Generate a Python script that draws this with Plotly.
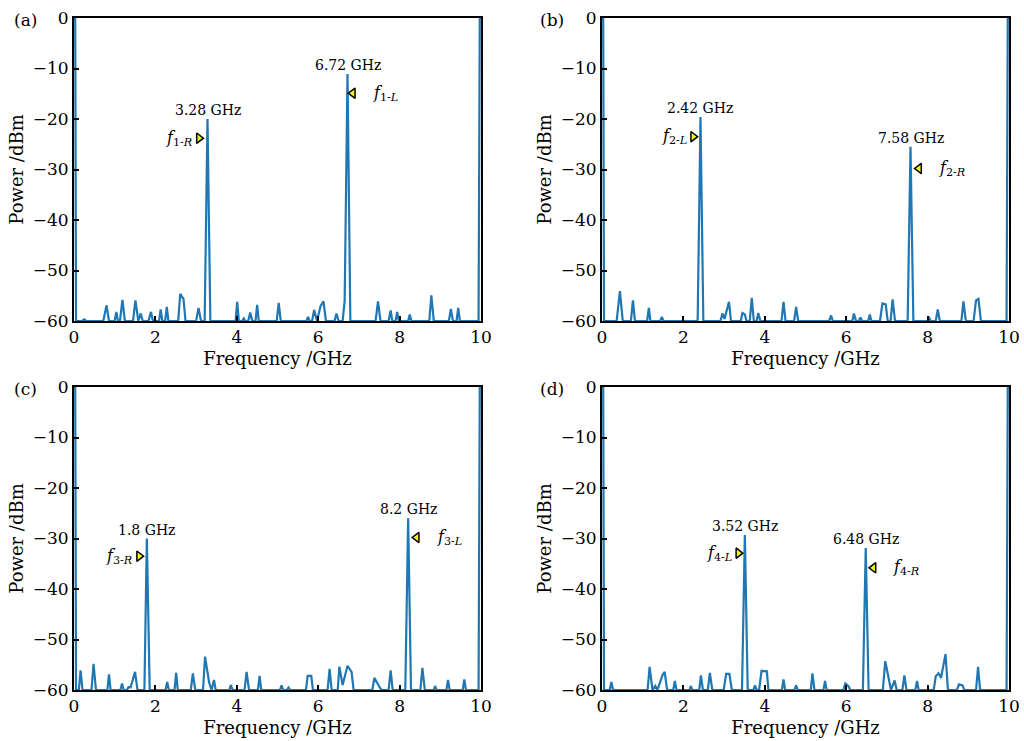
import plotly.graph_objects as go

# ---------------- data ----------------
a_freq = [0.00, 0.03, 0.05, 0.20, 0.25, 0.30, 0.72, 0.80, 0.86, 1.00, 1.04, 1.08, 1.13, 1.19, 1.25,
          1.45, 1.51, 1.58, 1.64, 1.69, 1.83, 1.89, 1.94, 2.09, 2.13, 2.17, 2.24, 2.28, 2.32,
          2.56, 2.61, 2.69, 2.74, 3.00, 3.06, 3.12, 3.21, 3.28, 3.35, 3.97, 4.01, 4.05,
          4.13, 4.17, 4.21, 4.28, 4.33, 4.38, 4.46, 4.50, 4.54, 4.98, 5.03, 5.08,
          5.71, 5.75, 5.79, 5.85, 5.90, 5.97, 6.06, 6.13, 6.19, 6.40, 6.45, 6.50,
          6.60, 6.65, 6.72, 6.79, 7.41, 7.47, 7.53, 7.73, 7.78, 7.82, 7.90, 7.94, 7.98,
          8.21, 8.25, 8.29, 8.73, 8.78, 8.84, 9.21, 9.26, 9.31, 9.40, 9.44, 9.48,
          9.94, 9.97, 10.00]
a_power = [0, 0, -60, -60, -59.7, -60, -60, -56.9, -60, -60, -58.2, -60, -60, -55.8, -60,
           -60, -55.9, -60, -58.5, -60, -60, -58.2, -60, -60, -57.7, -60, -60, -57.2, -60,
           -60, -54.6, -55.6, -60, -60, -57.4, -60, -60, -20.0, -60, -60, -56.2, -60,
           -60, -59.5, -60, -60, -58.3, -60, -60, -56.8, -60, -60, -56.4, -60,
           -60, -59.2, -60, -60, -57.8, -60, -57.0, -56.1, -60, -60, -58.5, -60,
           -60, -56.0, -11.1, -60, -60, -56.1, -60, -60, -57.9, -60, -60, -58.2, -60,
           -60, -58.7, -60, -60, -54.9, -60, -60, -57.6, -60, -60, -57.4, -60,
           -60, 0, 0]

b_freq = [0.00, 0.03, 0.05, 0.36, 0.44, 0.51, 0.71, 0.76, 0.81, 1.11, 1.15, 1.19, 1.43, 1.47, 1.51,
          2.35, 2.42, 2.49, 2.91, 2.96, 3.01, 3.12, 3.17, 3.41, 3.45, 3.51, 3.55,
          3.63, 3.68, 3.73, 3.80, 3.84, 3.89, 4.41, 4.46, 4.51, 4.72, 4.77, 4.82,
          5.58, 5.63, 5.67, 6.15, 6.19, 6.24, 6.31, 6.35, 6.39, 6.54, 6.58, 6.62,
          6.83, 6.89, 6.97, 7.02, 7.09, 7.14, 7.20, 7.51, 7.58, 7.65,
          7.99, 8.04, 8.08, 8.20, 8.25, 8.30, 8.83, 8.88, 8.94, 9.13, 9.19, 9.25, 9.31,
          9.94, 9.97, 10.00]
b_power = [0, 0, -60, -60, -54.1, -60, -60, -55.9, -60, -60, -57.4, -60, -60, -59.2, -60,
           -60, -19.6, -60, -60, -58.5, -59.6, -56.2, -60, -60, -58.4, -58.7, -60,
           -60, -55.4, -60, -60, -58.4, -60, -60, -56.2, -60, -60, -57.2, -60,
           -60, -58.9, -60, -60, -58.5, -60, -60, -59.3, -60, -60, -58.7, -60,
           -60, -56.5, -56.7, -60, -60, -55.7, -60, -60, -25.5, -60,
           -60, -59.4, -60, -60, -57.7, -60, -60, -56.1, -60, -60, -55.9, -55.6, -60,
           -60, 0, 0]

c_freq = [0.00, 0.03, 0.05, 0.12, 0.16, 0.21, 0.43, 0.48, 0.54, 0.82, 0.86, 0.90, 1.14, 1.18, 1.22,
          1.30, 1.34, 1.39, 1.50, 1.56, 1.73, 1.79, 1.86, 2.25, 2.29, 2.33, 2.47, 2.51, 2.55,
          2.87, 2.92, 2.98, 3.17, 3.22, 3.32, 3.38, 3.44, 3.48, 3.82, 3.85, 3.90,
          4.19, 4.24, 4.30, 4.52, 4.56, 4.60, 5.06, 5.10, 5.14, 5.23, 5.27, 5.31,
          5.70, 5.74, 5.83, 5.87, 6.23, 6.28, 6.33, 6.48, 6.52, 6.60, 6.72, 6.82, 6.87,
          7.33, 7.38, 7.52, 7.56, 7.73, 7.78, 7.83, 8.14, 8.21, 8.28, 8.51, 8.56, 8.62,
          8.84, 8.87, 8.91, 9.15, 9.19, 9.23, 9.55, 9.59, 9.63, 9.94, 9.97, 10.00]
c_power = [0, 0, -60, -60, -56.1, -60, -60, -54.8, -60, -60, -56.9, -60, -60, -58.7, -60,
           -60, -59.4, -59.5, -56.4, -60, -60, -30.0, -60, -60, -58.4, -60, -60, -56.6, -60,
           -60, -56.7, -60, -60, -53.4, -58.5, -60, -58.0, -60, -60, -59.0, -60,
           -60, -56.4, -60, -60, -57.2, -60, -60, -59.1, -60, -60, -59.5, -60,
           -60, -57.2, -57.2, -60, -60, -55.8, -60, -60, -55.4, -59.0, -55.2, -56.4, -60,
           -60, -57.6, -59.6, -60, -60, -56.1, -60, -60, -26.0, -60, -60, -55.6, -60,
           -60, -59.2, -60, -60, -58.0, -60, -60, -57.9, -60, -60, 0, 0]

d_freq = [0.00, 0.03, 0.05, 0.19, 0.23, 0.27, 1.12, 1.17, 1.24, 1.31, 1.36, 1.49, 1.54, 1.60,
          1.75, 1.79, 1.83, 2.15, 2.18, 2.22, 2.39, 2.43, 2.48, 2.60, 2.65, 2.71,
          2.99, 3.05, 3.13, 3.19, 3.44, 3.51, 3.58, 3.72, 3.76, 3.80, 3.86, 3.92, 4.05, 4.09,
          4.42, 4.46, 4.50, 4.73, 4.77, 4.81, 5.13, 5.17, 5.22, 5.44, 5.48, 5.52,
          5.93, 5.98, 6.06, 6.10, 6.41, 6.48, 6.55, 6.90, 6.96, 7.10, 7.19, 7.24,
          7.38, 7.43, 7.48, 7.70, 7.74, 7.78, 8.15, 8.20, 8.27, 8.33, 8.44, 8.50,
          8.72, 8.77, 8.86, 8.90, 9.19, 9.24, 9.29, 9.94, 9.97, 10.00]
d_power = [0, 0, -60, -60, -58.4, -60, -60, -55.4, -60, -59.2, -60, -57.0, -56.4, -60,
           -60, -58.2, -60, -60, -59.2, -60, -60, -57.1, -60, -60, -56.6, -60,
           -60, -56.8, -56.8, -60, -60, -29.3, -60, -60, -59.1, -60, -60, -56.2, -56.3, -60,
           -60, -57.9, -60, -60, -59.1, -60, -60, -56.7, -60, -60, -58.2, -60,
           -60, -58.7, -59.3, -60, -60, -31.9, -60, -60, -54.3, -60, -58.1, -60,
           -60, -57.1, -60, -60, -58.2, -60, -60, -57.3, -56.7, -57.6, -52.9, -60,
           -60, -58.9, -59.1, -60, -60, -55.4, -60, -60, 0, 0]

panel_letters = ["(a)", "(b)", "(c)", "(d)"]
peak_freq = [[3.28, 6.72], [2.42, 7.58], [1.79, 8.21], [3.51, 6.48]]
peak_power = [[-20.0, -11.1], [-19.6, -25.5], [-30.0, -26.0], [-29.3, -31.9]]
peak_labels = [["3.28 GHz", "6.72 GHz"], ["2.42 GHz", "7.58 GHz"],
               ["1.8 GHz", "8.2 GHz"], ["3.52 GHz", "6.48 GHz"]]
# right-pointing marker (label on its left)
rmark_freq = [3.07, 2.24, 1.60, 3.35]
rmark_power = [-23.8, -23.5, -33.5, -32.9]
rmark_text = ["<i>f</i><sub>1-<i>R</i></sub>", "<i>f</i><sub>2-<i>L</i></sub>",
              "<i>f</i><sub>3-<i>R</i></sub>", "<i>f</i><sub>4-<i>L</i></sub>"]
# left-pointing marker (label on its right)
lmark_freq = [6.85, 7.79, 8.42, 6.67]
lmark_power = [-14.9, -29.8, -29.8, -35.8]
lmark_text = ["<i>f</i><sub>1-<i>L</i></sub>", "<i>f</i><sub>2-<i>R</i></sub>",
              "<i>f</i><sub>3-<i>L</i></sub>", "<i>f</i><sub>4-<i>R</i></sub>"]

x_ticks = [0, 2, 4, 6, 8, 10]
y_ticks = [0, -10, -20, -30, -40, -50, -60]
x_title = "Frequency /GHz"
y_title = "Power /dBm"

freqs = [a_freq, b_freq, c_freq, d_freq]
powers = [a_power, b_power, c_power, d_power]

# ---------------- layout ----------------
W, H = 1024, 741
FONT = "DejaVu Serif"
LINE = "#1f77b4"
xdom = [(74 / W, 481 / W), (602 / W, 1009 / W)]
ydom = [(1 - 321 / H, 1 - 18 / H), (1 - 690 / H, 1 - 387 / H)]

fig = go.Figure()
layout = dict(
    width=W, height=H, margin=dict(l=0, r=0, t=0, b=0),
    paper_bgcolor="white", plot_bgcolor="white", showlegend=False,
    font=dict(family=FONT, size=16, color="black"),
)
annotations = []
for i in range(4):
    r, c = divmod(i, 2)
    xa = "x" if i == 0 else f"x{i+1}"
    ya = "y" if i == 0 else f"y{i+1}"
    xkey = "xaxis" if i == 0 else f"xaxis{i+1}"
    ykey = "yaxis" if i == 0 else f"yaxis{i+1}"
    fig.add_trace(go.Scatter(x=freqs[i], y=powers[i], mode="lines",
                             line=dict(color=LINE, width=2.2), xaxis=xa, yaxis=ya,
                             hoverinfo="skip"))
    fig.add_trace(go.Scatter(x=[rmark_freq[i]], y=[rmark_power[i]], mode="markers",
                             marker=dict(symbol="triangle-right", size=9, color="#f5f500",
                                         line=dict(color="black", width=1.5)),
                             xaxis=xa, yaxis=ya, cliponaxis=False))
    fig.add_trace(go.Scatter(x=[lmark_freq[i]], y=[lmark_power[i]], mode="markers",
                             marker=dict(symbol="triangle-left", size=9, color="#f5f500",
                                         line=dict(color="black", width=1.5)),
                             xaxis=xa, yaxis=ya, cliponaxis=False))
    axis_common = dict(showline=True, linecolor="black", linewidth=2, mirror=True,
                       ticks="inside", ticklen=5, tickcolor="black", tickwidth=1.5,
                       showgrid=False, zeroline=False, automargin=False,
                       tickfont=dict(family=FONT, size=17, color="black"))
    layout[xkey] = dict(axis_common, domain=list(xdom[c]), anchor=ya, range=[0, 10],
                        tickvals=x_ticks, ticktext=[str(v) for v in x_ticks],
                        title=dict(text=x_title, font=dict(family=FONT, size=18), standoff=6))
    layout[ykey] = dict(axis_common, domain=list(ydom[r]), anchor=xa, range=[-60, 0],
                        tickvals=y_ticks,
                        title=dict(text=y_title, font=dict(family=FONT, size=18), standoff=4))
    for pf, pp, pl in zip(peak_freq[i], peak_power[i], peak_labels[i]):
        annotations.append(dict(x=pf, y=pp, xref=xa, yref=ya, text=pl, showarrow=False,
                                xanchor="center", yanchor="bottom", yshift=-1,
                                font=dict(family=FONT, size=14, color="black")))
    annotations.append(dict(x=rmark_freq[i], y=rmark_power[i], xref=xa, yref=ya,
                            text=rmark_text[i], showarrow=False, xanchor="right",
                            yanchor="middle", xshift=-4,
                            font=dict(family=FONT, size=16, color="black")))
    annotations.append(dict(x=lmark_freq[i], y=lmark_power[i], xref=xa, yref=ya,
                            text=lmark_text[i], showarrow=False, xanchor="left",
                            yanchor="middle", xshift=18,
                            font=dict(family=FONT, size=16, color="black")))
    annotations.append(dict(x=(12 if c == 0 else 538) / W, y=ydom[r][1], xref="paper",
                            yref="paper", text=panel_letters[i], showarrow=False,
                            xanchor="left", yanchor="middle", yshift=-2,
                            font=dict(family=FONT, size=17, color="black")))
layout["annotations"] = annotations
fig.update_layout(**layout)
fig.write_html("out.html")
